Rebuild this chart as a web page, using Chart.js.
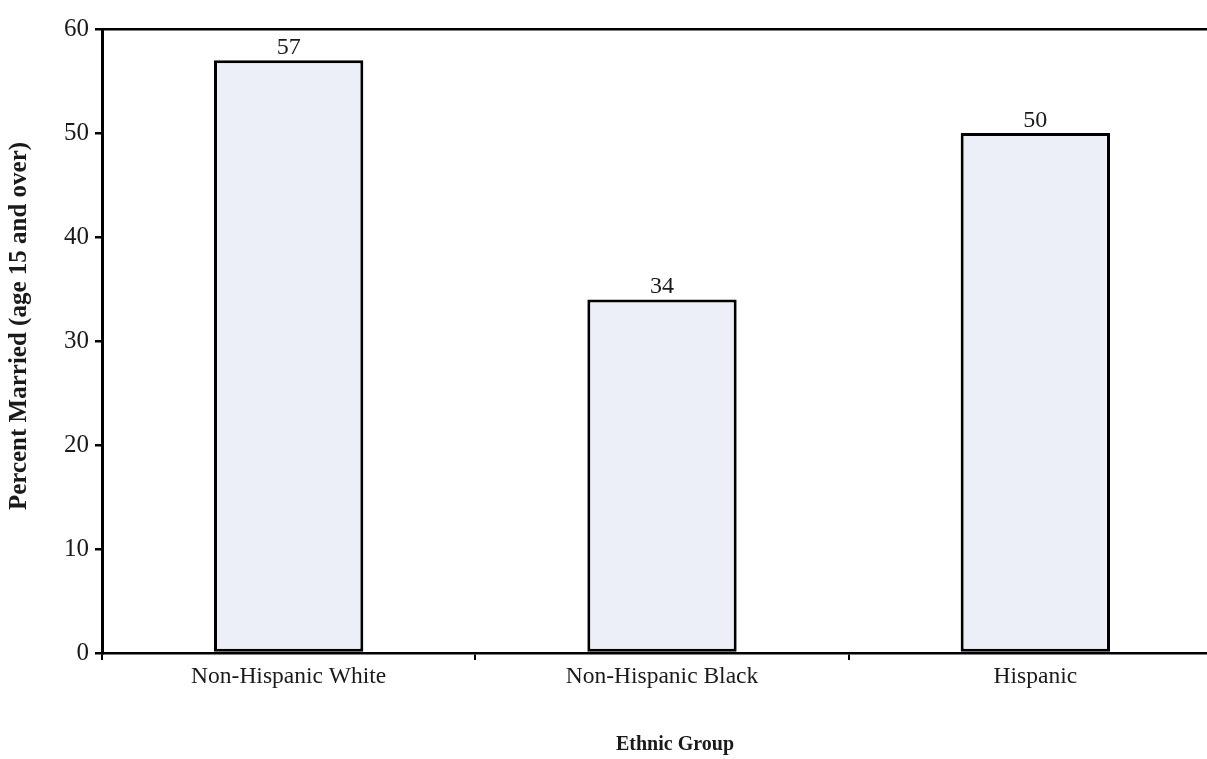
<!DOCTYPE html>
<html>
<head>
<meta charset="utf-8">
<script src="https://cdn.jsdelivr.net/npm/chart.js@4.4.1/dist/chart.umd.min.js"></script>
<style>
  html, body { margin: 0; padding: 0; background: #fff; overflow: hidden; }
  #wrap { position: relative; width: 1222px; height: 759px; }
</style>
</head>
<body>
<div id="wrap"><canvas id="chart"></canvas></div>
<script>
// Share of population age 15+ that is married, by ethnic group
const categories = ['Non-Hispanic White', 'Non-Hispanic Black', 'Hispanic'];
const percentMarried = [57, 34, 50];
const yTicks = [0, 10, 20, 30, 40, 50, 60];
const xTitle = 'Ethnic Group';
const yTitle = 'Percent Married (age 15 and over)';

const SERIF = '"Liberation Serif", "Times New Roman", serif';
const INK = '#1a1a1a';

// Writes each bar's value just above it
const valueLabels = {
  id: 'valueLabels',
  afterDatasetsDraw(chart) {
    const ctx = chart.ctx;
    const meta = chart.getDatasetMeta(0);
    ctx.save();
    ctx.font = '24px ' + SERIF;
    ctx.fillStyle = INK;
    ctx.textAlign = 'center';
    ctx.textBaseline = 'alphabetic';
    meta.data.forEach((bar, i) => {
      ctx.fillText(String(chart.data.datasets[0].data[i]), bar.x, bar.y - 6);
    });
    ctx.restore();
  }
};

// Axis titles, placed in the margins beside and below the plot
const axisTitles = {
  id: 'axisTitles',
  afterDraw(chart) {
    const ctx = chart.ctx;
    const area = chart.chartArea;
    ctx.save();
    ctx.fillStyle = INK;
    ctx.textAlign = 'center';
    ctx.textBaseline = 'middle';
    ctx.font = 'bold 20px ' + SERIF;
    ctx.fillText(xTitle, 675, chart.height - 14);
    ctx.translate(20, (area.top + area.bottom) / 2 - 15);
    ctx.rotate(-Math.PI / 2);
    ctx.font = 'bold 25px ' + SERIF;
    ctx.fillText(yTitle, 0, 0);
    ctx.restore();
  }
};

new Chart(document.getElementById('chart'), {
  type: 'bar',
  data: {
    labels: categories,
    datasets: [{
      data: percentMarried,
      backgroundColor: '#eceff8',
      borderColor: '#000',
      borderWidth: 3,
      borderSkipped: false,
      barPercentage: 0.4,
      categoryPercentage: 1.0
    }]
  },
  options: {
    responsive: true,
    maintainAspectRatio: false,
    animation: false,
    layout: { padding: { top: 29, left: 0, right: 0, bottom: 0 } },
    plugins: {
      legend: { display: false },
      tooltip: { enabled: false }
    },
    scales: {
      x: {
        offset: true,
        border: { display: true, color: '#000', width: 2.5 },
        grid: {
          offset: true,
          drawOnChartArea: false,
          drawTicks: true,
          tickLength: 7,
          tickColor: '#000',
          lineWidth: 2
        },
        ticks: {
          color: INK,
          font: { family: SERIF, size: 23.5 },
          padding: 3,
          maxRotation: 0
        },
        afterFit(scale) { scale.height = 106; }
      },
      y: {
        min: 0,
        max: 60,
        afterBuildTicks(scale) { scale.ticks = yTicks.map(v => ({ value: v })); },
        border: { display: true, color: '#000', width: 3 },
        grid: {
          drawTicks: true,
          tickLength: 7,
          tickColor: '#000',
          lineWidth: 2.5,
          color: (c) => (c.tick && c.tick.value === 60 ? '#000' : 'rgba(0,0,0,0)')
        },
        ticks: {
          color: INK,
          font: { family: SERIF, size: 25 },
          padding: 6
        },
        afterFit(scale) { scale.width = 102; }
      }
    }
  },
  plugins: [valueLabels, axisTitles]
});
</script>
</body>
</html>
